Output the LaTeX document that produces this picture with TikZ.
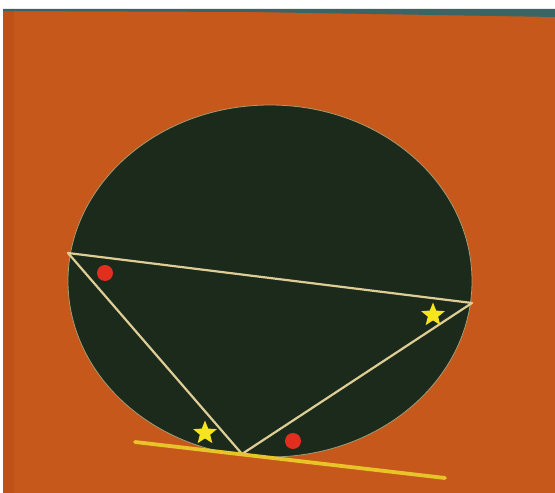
\documentclass[tikz,border=0pt]{standalone}
\usetikzlibrary{shapes.geometric}
\definecolor{board}{RGB}{198,88,28}
\definecolor{boarddark}{RGB}{170,66,16}
\definecolor{teal}{RGB}{60,100,100}
\definecolor{slate}{RGB}{28,42,28}
\definecolor{cream}{RGB}{222,206,150}
\definecolor{rod}{RGB}{232,196,40}
\definecolor{dotred}{RGB}{226,46,30}
\definecolor{staryellow}{RGB}{245,228,30}
\tikzset{
  side/.style={draw=cream, line width=2.2pt, line cap=round},
  reddot/.style={circle, fill=dotred, minimum size=16pt, inner sep=0pt},
  ystar/.style={star, star points=5, star point ratio=2.3, fill=staryellow, minimum size=25pt, inner sep=0pt},
}
\begin{document}
\begin{tikzpicture}[x=1pt,y=1pt]
\useasboundingbox (0,0) rectangle (555,493);
\fill[white] (0,0) rectangle (555,493);
% board
\fill[board] (3,0) rectangle (555,484);
\fill[teal] (3,482) -- (250,481) -- (555,476) -- (555,484) -- (3,484) -- cycle;
\fill[boarddark, opacity=0.3] (3,0) rectangle (14,482);
% slate circle
\fill[slate] (270,212) ellipse [x radius=202, y radius=176];
\draw[cream!70!slate, line width=0.8pt] (270,212) ellipse [x radius=202, y radius=176];
% triangle vertices
\coordinate (A) at (68,240);
\coordinate (B) at (472,190);
\coordinate (C) at (242,39);
\draw[side] (A) -- (B);
\draw[side] (B) -- (C);
\draw[side] (C) -- (A);
% tangent rod
\coordinate (R1) at (135,51);
\coordinate (R2) at (445,15);
\draw[rod, line width=3.8pt, line cap=round] (R1) -- (R2);
% marks
\node[reddot] (d1) at (105,220) {};
\node[reddot] (d2) at (293,52) {};
\node[ystar] (s1) at (433,178) {};
\node[ystar] (s2) at (205,60) {};
\end{tikzpicture}
\end{document}
